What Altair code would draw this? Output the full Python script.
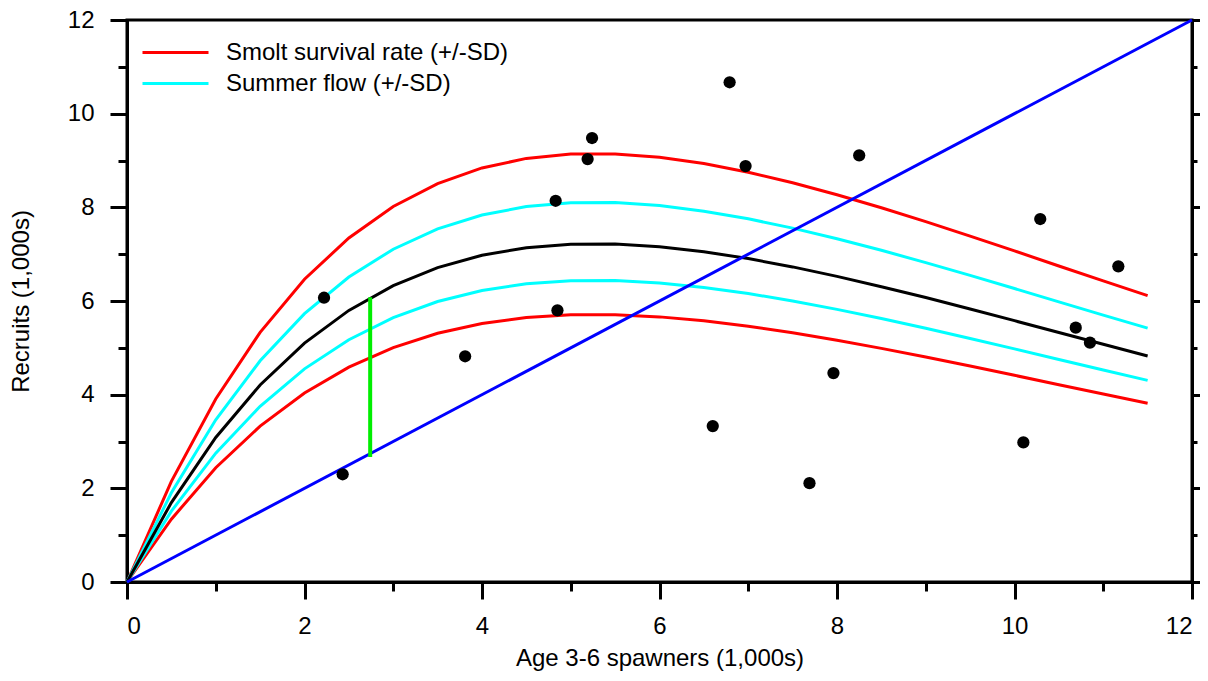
import altair as alt
import pandas as pd

# ---- data ----
spawners = [0, 0.5, 1, 1.5, 2, 2.5, 3, 3.5, 4, 4.5, 5, 5.5, 6, 6.5, 7, 7.5,
            8, 8.5, 9, 9.5, 10, 10.5, 11, 11.5]
mean_recruits = [0, 1.696, 3.085, 4.207, 5.102, 5.799, 6.328, 6.714, 6.978,
                 7.139, 7.212, 7.215, 7.157, 7.051, 6.906, 6.728, 6.526,
                 6.306, 6.073, 5.829, 5.580, 5.326, 5.075, 4.826]
smolt_upper = [0, 2.149, 3.909, 5.330, 6.464, 7.347, 8.018, 8.507, 8.841,
               9.045, 9.138, 9.141, 9.068, 8.934, 8.750, 8.524, 8.268, 7.990,
               7.694, 7.385, 7.070, 6.748, 6.430, 6.115]
smolt_lower = [0, 1.342, 2.440, 3.328, 4.036, 4.587, 5.005, 5.311, 5.520,
               5.647, 5.705, 5.707, 5.661, 5.577, 5.463, 5.322, 5.162, 4.988,
               4.804, 4.611, 4.414, 4.213, 4.014, 3.817]
flow_upper = [0, 1.905, 3.464, 4.724, 5.730, 6.512, 7.106, 7.540, 7.836,
              8.017, 8.099, 8.102, 8.037, 7.918, 7.755, 7.556, 7.329, 7.082,
              6.820, 6.546, 6.266, 5.981, 5.699, 5.420]
flow_lower = [0, 1.513, 2.752, 3.753, 4.551, 5.173, 5.645, 5.989, 6.224,
              6.368, 6.433, 6.436, 6.384, 6.290, 6.160, 6.001, 5.821, 5.625,
              5.417, 5.199, 4.977, 4.751, 4.527, 4.305]

obs_spawners = [2.22, 2.43, 3.81, 4.83, 4.85, 5.19, 5.24, 6.60, 6.79, 6.97,
                7.69, 7.96, 8.25, 10.10, 10.29, 10.69, 10.85, 11.17]
obs_recruits = [6.07, 2.30, 4.82, 8.14, 5.80, 9.03, 9.48, 3.33, 10.67, 8.88,
                2.11, 4.46, 9.11, 2.98, 7.75, 5.43, 5.11, 6.74]

replacement_x = [0, 12]
replacement_y = [0, 12]

marker_x = [2.74, 2.74]
marker_y = [2.67, 6.08]

smolt_label = "Smolt survival rate (+/-SD)"
flow_label = "Summer flow (+/-SD)"

# ---- tables ----
rows = []
for name, label, vals in [("smolt_up", smolt_label, smolt_upper),
                          ("smolt_lo", smolt_label, smolt_lower),
                          ("flow_up", flow_label, flow_upper),
                          ("flow_lo", flow_label, flow_lower)]:
    for s, r in zip(spawners, vals):
        rows.append({"S": s, "R": r, "band": label, "line": name})
bands = pd.DataFrame(rows)
mean_df = pd.DataFrame({"S": spawners, "R": mean_recruits})
obs_df = pd.DataFrame({"S": obs_spawners, "R": obs_recruits})
rep_df = pd.DataFrame({"S": replacement_x, "R": replacement_y})
mark_df = pd.DataFrame({"S": marker_x, "R": marker_y})

FONT = "Liberation Sans"
tick_cond = {"condition": {"test": "datum.value % 2 === 0", "value": 17}, "value": 9}
tick_cond_right = {"condition": {"test": "datum.value % 2 === 0", "value": 8}, "value": 5}
even_only = "datum.value % 2 === 0 ? datum.label : ''"

xscale = alt.Scale(domain=[0, 12], nice=False, zero=True)
yscale = alt.Scale(domain=[0, 12], nice=False, zero=True)

x_axis = alt.Axis(values=list(range(13)), tickSize=tick_cond, labelExpr=even_only,
                  title="Age 3-6 spawners (1,000s)", labelPadding=15, titlePadding=8,
                  orient="bottom")
y_axis_left = alt.Axis(values=list(range(13)), tickSize=tick_cond, labelExpr=even_only,
                       title="Recruits (1,000s)", labelPadding=16, titlePadding=34,
                       orient="left")
y_axis_right = alt.Axis(values=list(range(13)), tickSize=tick_cond_right, labels=False,
                        title=None, orient="right")

X = alt.X("S:Q", scale=xscale, axis=x_axis)
Y_left = alt.Y("R:Q", scale=yscale, axis=y_axis_left)
Y_none = alt.Y("R:Q", scale=yscale, axis=None)
Y_right = alt.Y("R:Q", scale=yscale, axis=y_axis_right)

band_lines = alt.Chart(bands).mark_line(strokeWidth=3).encode(
    x=X, y=Y_left,
    color=alt.Color("band:N",
                    scale=alt.Scale(domain=[smolt_label, flow_label],
                                    range=["#ff0000", "#00ffff"]),
                    legend=alt.Legend(title=None, orient="none", legendX=14, legendY=17,
                                      symbolType="stroke", symbolSize=4356,
                                      symbolStrokeWidth=3, labelFontSize=24,
                                      labelFont=FONT, labelOffset=16, padding=0,
                                      clipHeight=31, rowPadding=0, labelColor="black",
                                      labelLimit=0)),
    detail="line:N",
    order=alt.Order("S:Q"),
)

mean_line = alt.Chart(mean_df).mark_line(strokeWidth=3, color="black").encode(
    x=X, y=Y_right, order=alt.Order("S:Q"))

rep_line = alt.Chart(rep_df).mark_line(strokeWidth=3, color="#0000ff").encode(
    x=X, y=Y_none)

marker_line = alt.Chart(mark_df).mark_line(strokeWidth=4, color="#00ee00").encode(
    x=X, y=Y_none)

points = alt.Chart(obs_df).mark_circle(size=150, color="black", opacity=1).encode(
    x=X, y=Y_none)

chart = alt.layer(band_lines, mean_line, rep_line, marker_line, points).resolve_axis(
    y="independent"
).properties(
    width=1065, height=562,
    padding={"left": 119, "top": 12, "right": 8, "bottom": 91},
    autosize=alt.AutoSizeParams(type="none"),
).configure_view(
    stroke="black", strokeWidth=3
).configure_axis(
    domainColor="black", domainWidth=3, tickColor="black", tickWidth=3,
    labelFont=FONT, labelFontSize=24, labelColor="black",
    titleFont=FONT, titleFontSize=24, titleFontWeight="normal", titleColor="black",
    grid=False,
)

chart.save("out.html", embed_options={"renderer": "svg", "actions": False})
